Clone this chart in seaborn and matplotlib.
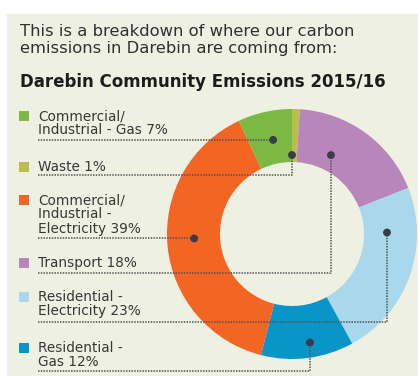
import matplotlib
matplotlib.use("Agg")
import matplotlib.pyplot as plt
import numpy as np
import pandas as pd
import seaborn as sns

# Emission sources, in legend order
categories = [
    "Commercial/\nIndustrial - Gas",
    "Waste",
    "Commercial/\nIndustrial -\nElectricity",
    "Transport",
    "Residential -\nElectricity",
    "Residential -\nGas",
]
shares = [7, 1, 39, 18, 23, 12]
colors = ["#7cb844", "#b9bf4c", "#f26522", "#b886bb", "#a9d7ec", "#0a95c8"]

# Ring runs clockwise from 12 o'clock in this order (indices into categories)
ring_order = [1, 3, 4, 5, 2, 0]

intro = "This is a breakdown of where our carbon\nemissions in Darebin are coming from:"
title = "Darebin Community Emissions 2015/16"

# ---- layout (pixel units, y grows downward) ----
W, H = 418, 376
BG = "#eef0e2"
CX, CY = 292, 234          # donut centre
R_OUT, R_IN = 125, 72      # donut radii
row_first_y = [116, 167, 200, 263, 297, 348]   # centre of each label's first line
row_rule_y = [141, 175, 238, 273, 322, 371]    # dotted underline of each label
line_step = 14.5
TEXT_X, BOX_X = 38, 24
# where along each wedge (fraction of its span) and how far out the anchor dot sits
dot_frac = [0.55, 0.0, 0.52, 0.35, 0.25, 0.45]
dot_rad = [96, 79, 98, 88, 95, 110]

sns.set_theme(style="white")
plt.rcParams["font.family"] = ["DejaVu Sans"]

fig = plt.figure(figsize=(W / 100, H / 100), dpi=100)
fig.patch.set_facecolor("white")
ax = fig.add_axes([0, 0, 1, 1])

# panel background
ax.add_patch(plt.Rectangle((7, 14), W, H, facecolor=BG, edgecolor="none", zorder=0))

# donut: y axis is flipped, so startangle=-90 with counterclock=True
# reads clockwise from the top on screen
vals = [shares[i] for i in ring_order]
cols = [colors[i] for i in ring_order]
ax.pie(vals, colors=cols, center=(CX, CY), radius=R_OUT, startangle=-90,
       counterclock=True, wedgeprops=dict(width=R_OUT - R_IN, linewidth=0),
       frame=True)

# wedge angular spans (clockwise from north, degrees)
total = float(sum(shares))
start = {}
acc = 0.0
for i in ring_order:
    start[i] = acc
    acc += shares[i] / total * 360.0

dots = []
for k in range(len(categories)):
    span = shares[k] / total * 360.0
    phi = np.radians(start[k] + dot_frac[k] * span)
    dots.append((CX + dot_rad[k] * np.sin(phi), CY - dot_rad[k] * np.cos(phi)))
dot_df = pd.DataFrame(dots, columns=["x", "y"])

# leader lines from each label's underline to its anchor dot
for k, (dx, dy) in enumerate(dots):
    ry = row_rule_y[k]
    if abs(ry - dy) < 4:
        ax.plot([TEXT_X, dx], [dy, dy], color="#555555", lw=1.1,
                ls=(0, (1, 0.8)), zorder=3)
    else:
        ax.plot([TEXT_X, dx, dx], [ry, ry, dy], color="#555555", lw=1.1,
                ls=(0, (1, 0.8)), zorder=3)

sns.scatterplot(data=dot_df, x="x", y="y", ax=ax, color="#3b3b4a", s=32,
                edgecolor="none", zorder=4, legend=False)

# legend swatches and labels
sw = pd.DataFrame({"x": [BOX_X] * len(categories), "y": row_first_y,
                   "cat": categories})
sns.scatterplot(data=sw, x="x", y="y", hue="cat", palette=colors, marker="s",
                s=45, edgecolor="none", ax=ax, legend=False, zorder=4)

for k, cat in enumerate(categories):
    lines = f"{cat} {shares[k]}%".split("\n")
    for j, ln in enumerate(lines):
        ax.text(TEXT_X, row_first_y[k] + j * line_step, ln, fontsize=9.8,
                color="#383838", va="center", ha="left", zorder=5)

# heading text
for j, ln in enumerate(intro.split("\n")):
    ax.text(20, 32 + j * 16.5, ln, fontsize=11.8, color="#303030",
            va="center", ha="left", zorder=5)
ax.text(20, 82, title, fontsize=12.0, fontweight="bold", color="#1c1c1c",
        va="center", ha="left", zorder=5)

ax.set_xlim(0, W)
ax.set_ylim(H, 0)
ax.set_aspect("equal", adjustable="box")
ax.axis("off")

fig.savefig("out.png", dpi=100, facecolor="white")
